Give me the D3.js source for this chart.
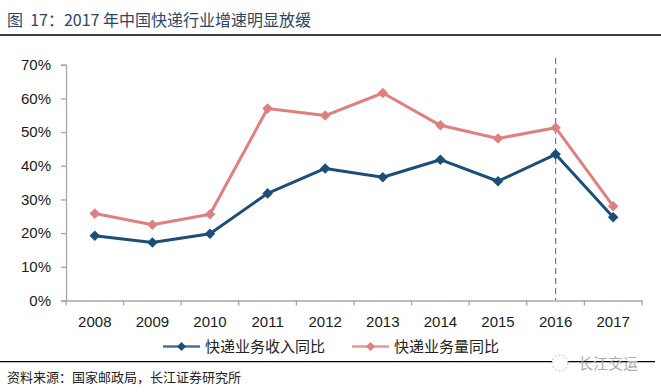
<!DOCTYPE html>
<html><head><meta charset="utf-8">
<script src="https://cdn.jsdelivr.net/npm/d3@7"></script>
<style>
body{margin:0;background:#fff;}
svg{display:block;font-family:"Liberation Sans","Noto Sans CJK SC",Arial,sans-serif;}
</style></head>
<body>
<script>
const years = ["2008","2009","2010","2011","2012","2013","2014","2015","2016","2017"];
const revenueGrowth = [0.192, 0.172, 0.198, 0.318, 0.392, 0.366, 0.418, 0.354, 0.434, 0.247];
const volumeGrowth = [0.258, 0.225, 0.256, 0.570, 0.549, 0.616, 0.520, 0.481, 0.513, 0.280];
const yTicks = [0, 0.1, 0.2, 0.3, 0.4, 0.5, 0.6, 0.7];
const seriesNames = ["快递业务收入同比", "快递业务量同比"];
const markerYear = "2016";
const titleText = "图  17：2017 年中国快递行业增速明显放缓";
const sourceText = "资料来源：国家邮政局，长江证券研究所";
const watermark = "长江交运";

const W = 661, H = 392;
const colors = ["#1b4f7a", "#e07f80"];
const svg = d3.select("body").append("svg").attr("width", W).attr("height", H);

// title
svg.append("text").attr("x", 7).attr("y", 26).attr("font-size", 16)
  .attr("fill", "#2c4666").attr("xml:space", "preserve").style("white-space", "pre")
  .attr("font-family", "'Noto Sans CJK SC',sans-serif").text(titleText);
svg.append("line").attr("x1", 0).attr("x2", W).attr("y1", 35).attr("y2", 35)
  .attr("stroke", "#000").attr("stroke-width", 1.5);

const x = d3.scaleBand().domain(years).range([66, 642]).padding(0);
const y = d3.scaleLinear().domain([0, 0.7]).range([300.5, 64.7]);

// y axis
const yAxis = d3.axisLeft(y).tickValues(yTicks).tickFormat(d3.format(".0%")).tickSize(5).tickPadding(10);
const gy = svg.append("g").attr("transform", "translate(66,0)").call(yAxis);
gy.selectAll("path,line").attr("stroke", "#a6a6a6").attr("stroke-width", 1.3);
gy.selectAll("text").attr("font-size", 15).attr("fill", "#1a1a1a");

// x axis
const xAxis = d3.axisBottom(x).tickSize(0).tickPadding(16);
const gx = svg.append("g").attr("transform", "translate(0,300.5)").call(xAxis);
gx.select("path").attr("stroke", "#a6a6a6").attr("stroke-width", 1.3);
gx.selectAll("text").attr("font-size", 15).attr("fill", "#1a1a1a");
// boundary ticks
gx.selectAll(".bt").data(years.concat(["_end"])).enter().append("line")
  .attr("x1", (d, i) => x.range()[0] + i * x.bandwidth())
  .attr("x2", (d, i) => x.range()[0] + i * x.bandwidth())
  .attr("y1", 0).attr("y2", 5).attr("stroke", "#a6a6a6").attr("stroke-width", 1.3);

// dashed marker
const cx = d => x(d) + x.bandwidth() / 2;
svg.append("line").attr("x1", cx(markerYear)).attr("x2", cx(markerYear))
  .attr("y1", 58).attr("y2", 300).attr("stroke", "#777").attr("stroke-width", 1.2)
  .attr("stroke-dasharray", "6,4");

const marker = d3.symbol().type(d3.symbolSquare).size(56);
const allSeries = [revenueGrowth, volumeGrowth];
[1, 0].forEach(si => {
  const vals = allSeries[si];
  const line = d3.line().x((d, i) => cx(years[i])).y(d => y(d));
  svg.append("path").datum(vals).attr("d", line).attr("fill", "none")
    .attr("stroke", colors[si]).attr("stroke-width", 3).attr("stroke-linejoin", "round");
  svg.selectAll(".m" + si).data(vals).enter().append("path")
    .attr("d", marker).attr("fill", colors[si])
    .attr("transform", (d, i) => `translate(${cx(years[i])},${y(d)}) rotate(45)`);
});

// legend
const legendPos = [{x1: 163, x2: 200, tx: 205}, {x1: 352, x2: 389, tx: 394}];
legendPos.forEach((p, i) => {
  const g = svg.append("g");
  g.append("line").attr("x1", p.x1).attr("x2", p.x2).attr("y1", 346.5).attr("y2", 346.5)
    .attr("stroke", colors[i]).attr("stroke-width", 2.5).attr("opacity", 0.8);
  g.append("path").attr("d", d3.symbol().type(d3.symbolSquare).size(40))
    .attr("transform", `translate(${(p.x1 + p.x2) / 2},346.5) rotate(45)`).attr("fill", colors[i]);
  g.append("text").attr("x", p.tx).attr("y", 352).attr("font-size", 15).attr("fill", "#222")
    .attr("font-family", "'Noto Sans CJK SC',sans-serif").text(seriesNames[i]);
});

// bottom rule & source
svg.append("line").attr("x1", 0).attr("x2", 655).attr("y1", 361.7).attr("y2", 361.7)
  .attr("stroke", "#000").attr("stroke-width", 1.3);
svg.append("text").attr("x", 7).attr("y", 382).attr("font-size", 13).attr("fill", "#222")
  .attr("font-family", "'Noto Sans CJK SC',sans-serif").text(sourceText);

// watermark
svg.append("circle").attr("cx", 560).attr("cy", 363).attr("r", 8).attr("fill", "#fff")
  .attr("stroke", "#bbb").attr("stroke-dasharray", "2,2");
svg.append("text").attr("x", 578).attr("y", 369).attr("font-size", 15).attr("fill", "#aaa")
  .attr("font-family", "'Noto Sans CJK SC',sans-serif").text(watermark);
</script>
</body></html>
